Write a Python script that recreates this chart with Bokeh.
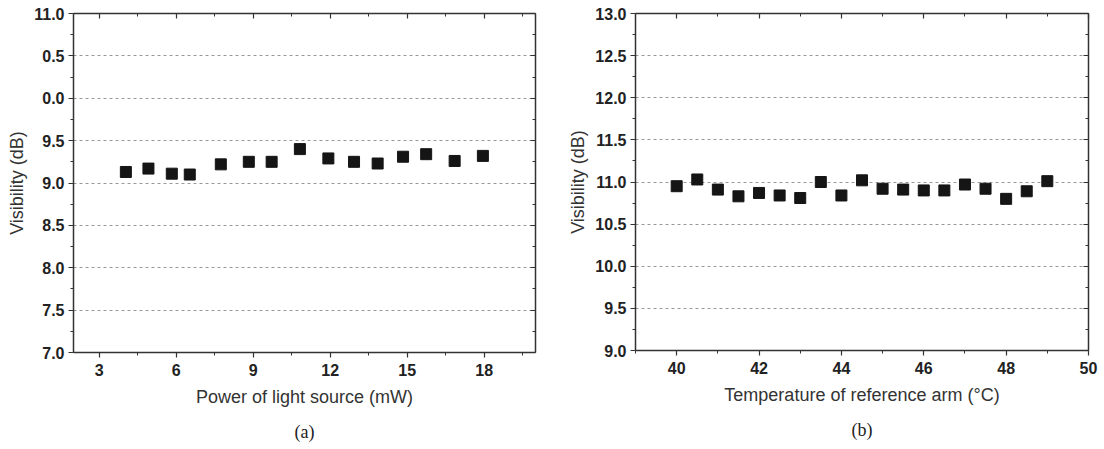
from bokeh.plotting import figure
from bokeh.layouts import row
from bokeh.models import LinearAxis, Title, FixedTicker
from bokeh.embed import file_html
from bokeh.resources import INLINE

# Panel (a)
power_mw = [4.04, 4.92, 5.83, 6.53, 7.74, 8.83, 9.72, 10.82, 11.93, 12.93, 13.85, 14.84, 15.74, 16.85, 17.95]
vis_a = [9.13, 9.17, 9.11, 9.10, 9.22, 9.25, 9.25, 9.40, 9.29, 9.25, 9.23, 9.31, 9.34, 9.26, 9.32]
xticks_a = [3, 6, 9, 12, 15, 18]
yticks_a = [7.0, 7.5, 8.0, 8.5, 9.0, 9.5, 10.0, 10.5, 11.0]
ylabels_a = ["7.0", "7.5", "8.0", "8.5", "9.0", "9.5", "0.0", "0.5", "11.0"]

# Panel (b)
temp_c = [40, 40.5, 41, 41.5, 42, 42.5, 43, 43.5, 44, 44.5, 45, 45.5, 46, 46.5, 47, 47.5, 48, 48.5, 49]
vis_b = [10.95, 11.03, 10.91, 10.83, 10.87, 10.84, 10.81, 11.00, 10.84, 11.02, 10.92, 10.91, 10.90, 10.90, 10.97, 10.92, 10.80, 10.89, 11.01]
xticks_b = [40, 42, 44, 46, 48, 50]
yticks_b = [9.0, 9.5, 10.0, 10.5, 11.0, 11.5, 12.0, 12.5, 13.0]

AX = "#333333"
FONT = "Liberation Sans"


def style_axis(ax, ticks, minor, side):
    ax.ticker = FixedTicker(ticks=ticks, minor_ticks=minor)
    ax.axis_line_color = AX
    ax.axis_line_width = 1.5
    ax.major_tick_line_color = AX
    ax.minor_tick_line_color = AX
    ax.major_tick_line_width = 1.2
    ax.minor_tick_line_width = 1.0
    if side in ("left", "below"):
        ax.major_tick_out = 5
        ax.major_tick_in = 0
        ax.minor_tick_out = 3
        ax.minor_tick_in = 0
        ax.major_label_text_font = FONT
        ax.major_label_text_font_style = "bold"
        ax.major_label_text_font_size = "16px"
        ax.major_label_text_color = "#222222"
        ax.axis_label_text_font = FONT
        ax.axis_label_text_font_style = "normal"
        ax.axis_label_text_font_size = "18px"
        ax.axis_label_text_color = "#333333"
    else:
        ax.major_tick_in = 5
        ax.major_tick_out = 0
        ax.minor_tick_in = 3
        ax.minor_tick_out = 0
        ax.major_label_overrides = {t: "" for t in ticks}
        ax.major_label_standoff = 0


def make(x, y, xr, yr, xticks, yticks, xminor, yminor, xlabel, cap, lb, rb, tb, xls, ts, ylabels=None):
    p = figure(frame_width=(xr[2]), frame_height=yr[2], x_range=(xr[0], xr[1]), y_range=(yr[0], yr[1]),
               output_backend="svg", toolbar_location=None,
               min_border_left=lb, min_border_right=rb, min_border_top=tb, min_border_bottom=90)
    p.outline_line_color = None
    p.background_fill_color = "white"
    p.xgrid.visible = False
    p.ygrid.ticker = FixedTicker(ticks=yticks[1:-1])
    p.ygrid.grid_line_color = "#999999"
    p.ygrid.grid_line_dash = "3 3"
    p.ygrid.grid_line_width = 1

    style_axis(p.xaxis[0], xticks, xminor, "below")
    style_axis(p.yaxis[0], yticks, yminor, "left")
    p.xaxis[0].axis_label = xlabel
    p.xaxis[0].major_label_standoff = 6
    p.xaxis[0].axis_label_standoff = xls
    p.yaxis[0].axis_label = "Visibility (dB)"
    p.yaxis[0].major_label_standoff = 4
    p.yaxis[0].axis_label_standoff = 4
    if ylabels is not None:
        p.yaxis[0].major_label_overrides = {t: l for t, l in zip(yticks, ylabels)}
    else:
        p.yaxis[0].major_label_overrides = {t: f"{t:.1f}" for t in yticks}

    top = LinearAxis()
    style_axis(top, xticks, xminor, "above")
    p.add_layout(top, "above")
    right = LinearAxis()
    style_axis(right, yticks, yminor, "right")
    p.add_layout(right, "right")

    p.add_layout(Title(text=cap, align="center", text_font="Liberation Serif",
                       text_font_size="18px", text_font_style="normal", text_color="#222222",
                       standoff=ts, offset=0), "below")

    p.scatter(x, y, marker="square", size=11, fill_color="#151515", line_color="#151515")
    return p


xminor_a = [1.5 * k + 3 for k in range(-1, 12)]
yminor_a = [7 + 0.25 * k for k in range(17)]
p1 = make(power_mw, vis_a, (2, 20, 462), (7, 11, 339), xticks_a, yticks_a, xminor_a, yminor_a,
          "Power of light source (mW)", "(a)", 73, 25, 13, 8, 20, ylabels=ylabels_a)

xminor_b = [39 + 1 * k for k in range(12)]
yminor_b = [9 + 0.25 * k for k in range(17)]
p2 = make(temp_c, vis_b, (39, 50, 453), (9, 13, 337), xticks_b, yticks_b, xminor_b, yminor_b,
          "Temperature of reference arm (\u00b0C)", "(b)", 75, 10, 13, 8, 20)

layout = row(p1, p2, spacing=0)
open("out.html", "w").write(file_html(layout, INLINE))
